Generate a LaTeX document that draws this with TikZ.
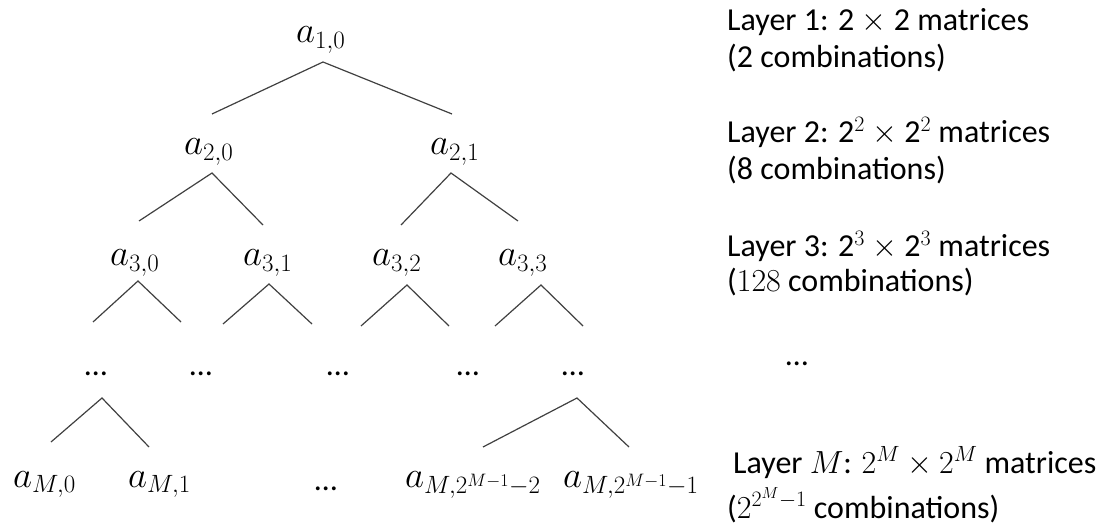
\RequirePackage{fix-cm}
\documentclass[tikz,border=0pt]{standalone}
\usepackage{fontspec}
\setmainfont{Carlito}
\DeclareMathSizes{37}{37}{25}{18}
\DeclareMathSizes{32}{32}{22}{16}
\begin{document}
\begin{tikzpicture}[x=1pt,y=-1pt,
  branch/.style={draw=black!75, line width=1.2pt},
  leaf/.style={anchor=base west, inner sep=0pt, font=\fontsize{37}{42}\selectfont},
  gap/.style={anchor=base, inner sep=0pt, font=\fontsize{32}{37}\selectfont},
  note/.style={anchor=base west, inner sep=0pt, font=\fontsize{32}{37}\selectfont}]
\useasboundingbox (0,0) rectangle (1100,526);

% tree entries
\node[leaf] (a10) at (296,43)  {$a_{1,0}$};
\node[leaf] (a20) at (184,155) {$a_{2,0}$};
\node[leaf] (a21) at (430,155) {$a_{2,1}$};
\node[leaf] (a30) at (110,266) {$a_{3,0}$};
\node[leaf] (a31) at (243,266) {$a_{3,1}$};
\node[leaf] (a32) at (372,266) {$a_{3,2}$};
\node[leaf] (a33) at (498,266) {$a_{3,3}$};
\node[leaf] (aM0) at (13,487)  {$a_{M,0}$};
\node[leaf] (aM1) at (128,487) {$a_{M,1}$};
\node[leaf] (aM2) at (405,487) {$a_{M,2^{M-1}-2}$};
\node[leaf] (aM3) at (563,487) {$a_{M,2^{M-1}-1}$};

% elided levels
\node[gap] (d1) at (96,375)  {\dots};
\node[gap] (d2) at (201,375) {\dots};
\node[gap] (d3) at (338,375) {\dots};
\node[gap] (d4) at (468,375) {\dots};
\node[gap] (d5) at (573,375) {\dots};
\node[gap] (d6) at (326,490) {\dots};
\node[gap] (d7) at (797,366) {\dots};

% branch end points: top (t), left end (l), right end (r)
\coordinate (t1) at (323,62);  \coordinate (l1) at (212,114); \coordinate (r1) at (452,114);
\coordinate (t2) at (212,173); \coordinate (l2) at (139,221); \coordinate (r2) at (263,225);
\coordinate (t3) at (451,173); \coordinate (l3) at (401,225); \coordinate (r3) at (518,221);
\coordinate (t4) at (138,281); \coordinate (l4) at (93,322);  \coordinate (r4) at (181,322);
\coordinate (t5) at (269,284); \coordinate (l5) at (223,324); \coordinate (r5) at (312,324);
\coordinate (t6) at (407,285); \coordinate (l6) at (361,326); \coordinate (r6) at (449,326);
\coordinate (t7) at (541,285); \coordinate (l7) at (495,326); \coordinate (r7) at (583,326);
\coordinate (t8) at (102,398); \coordinate (l8) at (51,442);  \coordinate (r8) at (149,447);
\coordinate (t9) at (577,398); \coordinate (l9) at (483,447); \coordinate (r9) at (629,447);

\foreach \i in {1,...,9} \draw[branch] (l\i) -- (t\i) -- (r\i);

% layer descriptions
\node[note] (n1a) at (727,31)  {Layer 1: 2 $\times$ 2 matrices};
\node[note] (n1b) at (727,68)  {(2 combinations)};
\node[note] (n2a) at (727,143) {Layer 2: 2$^2$ $\times$ 2$^2$ matrices};
\node[note] (n2b) at (727,180) {(8 combinations)};
\node[note] (n3a) at (727,257) {Layer 3: 2$^3$ $\times$ 2$^3$ matrices};
\node[note] (n3b) at (727,292) {($128$ combinations)};
\node[note] (nMa) at (733,473) {Layer $M$: $2^M \times 2^M$ matrices};
\node[note] (nMb) at (727,518) {($2^{2^M-1}$ combinations)};
\end{tikzpicture}
\end{document}
